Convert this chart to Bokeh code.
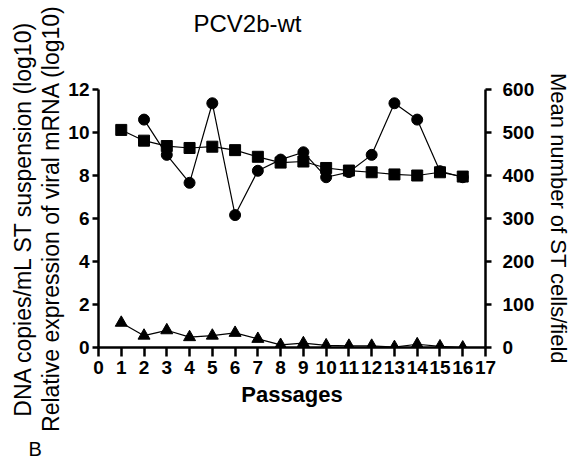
from bokeh.plotting import figure
from bokeh.models import Range1d, LinearAxis, FixedTicker, Title
from bokeh.embed import file_html
from bokeh.resources import INLINE

# ---- data ----
passages_sq = [1, 2, 3, 4, 5, 6, 7, 8, 9, 10, 11, 12, 13, 14, 15, 16]
dna_log10 = [10.12, 9.62, 9.37, 9.28, 9.34, 9.18, 8.87, 8.6, 8.65, 8.35, 8.23, 8.15, 8.05, 8.0, 8.15, 7.95]

passages_ci = [2, 3, 4, 5, 6, 7, 8, 9, 10, 11, 12, 13, 14, 15, 16]
cells_per_field = [530, 448, 383, 568, 308, 411, 437, 454, 396, 408, 448, 568, 530, 410, 396]

passages_tr = [1, 2, 3, 4, 5, 6, 7, 8, 9, 10, 11, 12, 13, 14, 15, 16]
mrna_log10 = [1.15, 0.55, 0.8, 0.48, 0.55, 0.68, 0.4, 0.12, 0.2, 0.1, 0.08, 0.08, 0.02, 0.15, 0.05, 0.0]

x_ticks = list(range(0, 18))
left_ticks = [0, 2, 4, 6, 8, 10, 12]
right_ticks = [0, 100, 200, 300, 400, 500, 600]

title_text = "PCV2b-wt"
left_label_1 = "DNA copies/mL ST suspension (log10)"
left_label_2 = "Relative expression of viral mRNA (log10)"
right_label = "Mean number of ST cells/field"
x_label = "Passages"
panel_letter = "B"

FONT = "Liberation Sans"

p = figure(width=575, height=464, output_backend="svg", toolbar_location=None,
           x_range=Range1d(0, 17), y_range=Range1d(0, 12),
           min_border_left=98, min_border_right=90, min_border_top=89, min_border_bottom=117,
           x_axis_location=None, y_axis_location=None)
p.extra_y_ranges = {"cells": Range1d(0, 600)}
p.outline_line_color = None
p.xgrid.visible = False
p.ygrid.visible = False
p.background_fill_color = "white"
p.border_fill_color = "white"

def style_axis(ax, tick_out, standoff):
    ax.axis_line_width = 2.5
    ax.axis_line_color = "black"
    ax.major_tick_line_width = 2.5
    ax.major_tick_line_color = "black"
    ax.major_tick_out = tick_out
    ax.major_tick_in = 0
    ax.minor_tick_line_color = None
    ax.major_label_text_font = FONT
    ax.major_label_text_font_style = "bold"
    ax.major_label_text_font_size = "19px"
    ax.major_label_text_color = "black"
    ax.major_label_standoff = standoff
    ax.axis_label_text_font = FONT
    ax.axis_label_text_font_size = "22px"
    ax.axis_label_text_font_style = "normal"
    ax.axis_label_text_color = "black"

xa = LinearAxis(ticker=FixedTicker(ticks=x_ticks), axis_label=x_label)
style_axis(xa, 9, 4)
xa.axis_label_text_font_style = "bold"
xa.axis_label_standoff = 5
p.add_layout(xa, "below")

ya = LinearAxis(ticker=FixedTicker(ticks=left_ticks), axis_label=left_label_2)
style_axis(ya, 6, 3)
ya.axis_label_text_font_size = "23px"
ya.axis_label_standoff = 1
p.add_layout(ya, "left")

ya_outer = LinearAxis(ticker=FixedTicker(ticks=[]), axis_label=left_label_1)
style_axis(ya_outer, 0, 0)
ya_outer.axis_line_color = None
ya_outer.major_tick_line_color = None
ya_outer.axis_label_text_font_size = "23px"
ya_outer.axis_label_standoff = 0
p.add_layout(ya_outer, "left")

yr = LinearAxis(y_range_name="cells", ticker=FixedTicker(ticks=right_ticks), axis_label=right_label)
style_axis(yr, 6, 11)
yr.axis_label_standoff = 9
p.add_layout(yr, "right")

# title (a blank spacer keeps it away from the frame)
p.add_layout(Title(text=" ", standoff=38, text_font_size="10px"), "above")
p.add_layout(Title(text=title_text, align="left", vertical_align="top", offset=95, standoff=0,
                   text_font=FONT, text_font_size="24px", text_font_style="normal",
                   text_color="black"), "above")

# panel letter (below the x axis, after a blank spacer)
p.add_layout(Title(text=" ", standoff=13, text_font_size="10px"), "below")
p.add_layout(Title(text=panel_letter, align="left", vertical_align="bottom", offset=-70, standoff=0,
                   text_font=FONT, text_font_size="20px", text_font_style="normal",
                   text_color="black"), "below")

# series
p.line(passages_sq, dna_log10, line_color="black", line_width=1.2)
p.line(passages_ci, cells_per_field, y_range_name="cells", line_color="black", line_width=1.2)
p.line(passages_tr, mrna_log10, line_color="black", line_width=1.2)

p.scatter(passages_ci, cells_per_field, y_range_name="cells", marker="circle", size=11,
          fill_color="black", line_color="black")
p.scatter(passages_sq, dna_log10, marker="square", size=11, fill_color="black", line_color="black")
p.scatter(passages_tr, mrna_log10, marker="triangle", size=12, fill_color="black", line_color="black")

open("out.html", "w").write(file_html(p, INLINE))
